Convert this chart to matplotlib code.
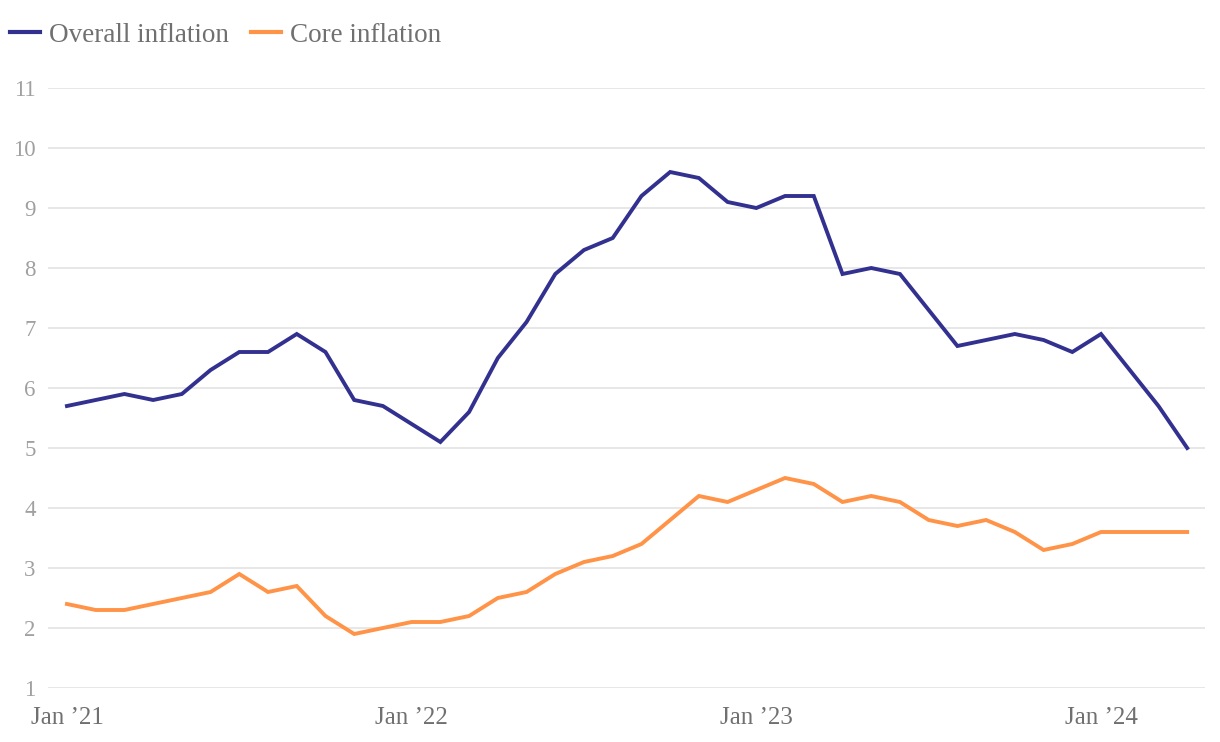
import matplotlib.pyplot as plt
from matplotlib.lines import Line2D

months = list(range(40))
tick_pos = [0, 12, 24, 36]
tick_labels = ["Jan \u201921", "Jan \u201922", "Jan \u201923", "Jan \u201924"]

overall = [5.7, 5.8, 5.9, 5.8, 5.9, 6.3, 6.6, 6.6, 6.9, 6.6, 5.8, 5.7,
           5.4, 5.1, 5.6, 6.5, 7.1, 7.9, 8.3, 8.5, 9.2, 9.6, 9.5, 9.1,
           9.0, 9.2, 9.2, 7.9, 8.0, 7.9, 7.3, 6.7, 6.8, 6.9, 6.8, 6.6,
           6.9, 6.3, 5.7, 5.0]
core = [2.4, 2.3, 2.3, 2.4, 2.5, 2.6, 2.9, 2.6, 2.7, 2.2, 1.9, 2.0,
        2.1, 2.1, 2.2, 2.5, 2.6, 2.9, 3.1, 3.2, 3.4, 3.8, 4.2, 4.1,
        4.3, 4.5, 4.4, 4.1, 4.2, 4.1, 3.8, 3.7, 3.8, 3.6, 3.3, 3.4,
        3.6, 3.6, 3.6, 3.6]

blue = "#33318f"
orange = "#ff9347"

plt.rcParams['font.family'] = ['Liberation Serif', 'DejaVu Serif']

fig = plt.figure(figsize=(12.2, 7.42), dpi=100)
ax = fig.add_axes([48 / 1220, 54 / 742, 1157 / 1220, 600 / 742])

ax.plot(months, overall, color=blue, lw=2.8, solid_joinstyle='miter')
ax.plot(months, core, color=orange, lw=2.8, solid_joinstyle='miter')

ax.set_ylim(1, 11)
ax.set_xlim(-0.66, 39.62)
ax.set_yticks(range(1, 12))
ax.set_xticks(tick_pos)
ax.set_xticklabels(tick_labels)
ax.grid(axis='y', color='#e3e3e3', lw=1.2)
ax.set_axisbelow(True)
for s in ax.spines.values():
    s.set_visible(False)
ax.tick_params(axis='y', length=0, pad=9, labelsize=16.5, labelcolor='#a0a0a0')
ax.tick_params(axis='x', length=0, pad=14, labelsize=18, labelcolor='#707070')

handles = [Line2D([], [], color=blue, lw=3), Line2D([], [], color=orange, lw=3)]
fig.legend(handles, ["Overall inflation", "Core inflation"], loc='center left',
           bbox_to_anchor=(10 / 1220, 1 - 35 / 742), ncol=2, frameon=False,
           fontsize=19.5, labelcolor='#707070', handlelength=1.1,
           handletextpad=0.35, columnspacing=0.8, borderaxespad=0, borderpad=0)

fig.savefig("out.png", dpi=100, facecolor='white')
